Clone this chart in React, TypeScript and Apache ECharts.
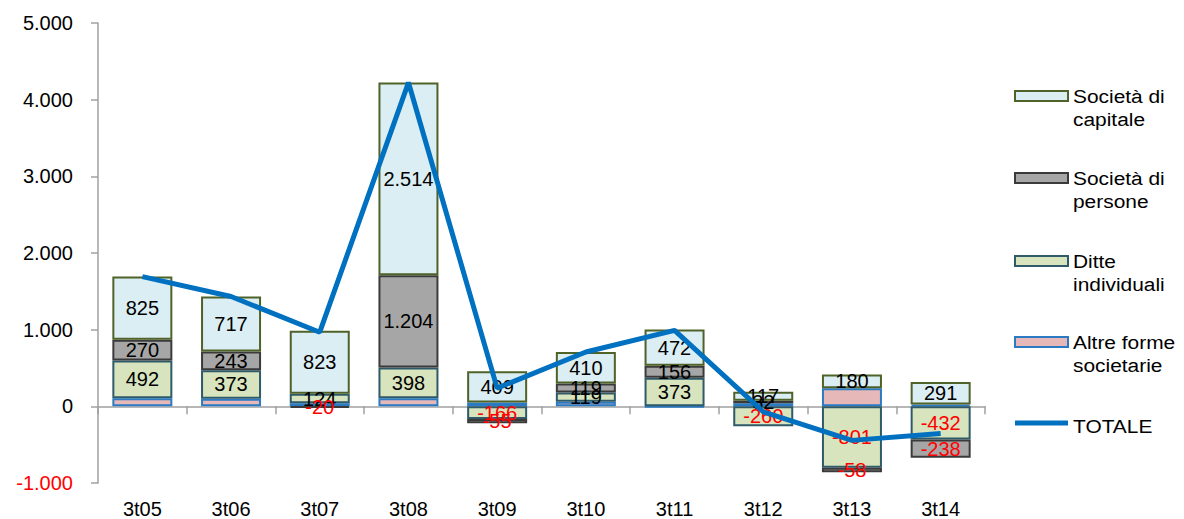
import React, { useEffect, useRef } from 'react';
import * as echarts from 'echarts';

const categories = ['3t05', '3t06', '3t07', '3t08', '3t09', '3t10', '3t11', '3t12', '3t13', '3t14'];
const altreForme = [105, 99, 40, 107, 50, 60, -10, 40, 235, 25];
const ditteIndividuali = [492, 373, 124, 398, -166, 119, 373, -260, -801, -432];
const societaPersone = [270, 243, -20, 1204, -55, 119, 156, 32, -58, -238];
const societaCapitale = [825, 717, 823, 2514, 409, 410, 472, 117, 180, 291];
const totale = [1692, 1432, 967, 4223, 238, 708, 991, -71, -444, -354];

const seriesNames = ['Società di\ncapitale', 'Società di\npersone', 'Ditte\nindividuali', 'Altre forme\nsocietarie', 'TOTALE'];

const FONT = 'Liberation Sans, Arial, sans-serif';
const RED = '#FF0000';

const fmt = (v: number) =>
  (v < 0 ? '-' : '') + Math.abs(v).toString().replace(/\B(?=(\d{3})+(?!\d))/g, '.');

const barData = (vals: number[]) =>
  vals.map((v) => ({ value: v, label: { color: v < 0 ? RED : '#000000' } }));

const labelCfg = {
  show: true,
  position: 'inside',
  fontSize: 20,
  fontFamily: FONT,
  textBorderWidth: 0,
  formatter: (p: any) => fmt(p.value),
};

const legendItems = [
  { text: seriesNames[0], fill: '#DBEEF4', stroke: '#4F6228', cy: 96 },
  { text: seriesNames[1], fill: '#A6A6A6', stroke: '#3A3A3A', cy: 178 },
  { text: seriesNames[2], fill: '#D7E4BD', stroke: '#2F5A6A', cy: 261 },
  { text: seriesNames[3], fill: '#E6B9B8', stroke: '#2A7BC4', cy: 342 },
];

export default function App() {
  const ref = useRef<HTMLDivElement>(null);
  useEffect(() => {
    if (!ref.current) return;
    const chart = echarts.init(ref.current, undefined, { renderer: 'svg' });
    const graphic: any[] = [];
    legendItems.forEach((it) => {
      graphic.push({
        type: 'rect',
        shape: { x: 1015, y: it.cy - 5, width: 53, height: 10 },
        style: { fill: it.fill, stroke: it.stroke, lineWidth: 2 },
      });
      graphic.push({
        type: 'text',
        x: 1073,
        y: it.cy - 11,
        scaleX: 1.1,
        style: {
          text: it.text,
          font: `19px ${FONT}`,
          fill: '#000',
          verticalAlign: 'top',
          lineHeight: 23,
        },
      });
    });
    graphic.push({
      type: 'line',
      shape: { x1: 1015, y1: 423, x2: 1068, y2: 423 },
      style: { stroke: '#0070C0', lineWidth: 5 },
    });
    graphic.push({
      type: 'text',
      x: 1073,
      y: 426,
      scaleX: 1.1,
      style: { text: seriesNames[4], font: `19px ${FONT}`, fill: '#000', verticalAlign: 'middle' },
    });

    chart.setOption({
      animation: false,
      textStyle: { fontFamily: FONT },
      grid: { left: 98, right: 199, top: 23, bottom: 35 },
      graphic,
      xAxis: [
        {
          type: 'category',
          data: categories,
          position: 'bottom',
          axisLine: { show: true, onZero: true, lineStyle: { color: '#A0A0A0', width: 1.5 } },
          axisTick: { show: true, length: 8, lineStyle: { color: '#A0A0A0', width: 1.5 } },
          axisLabel: { show: false },
          splitLine: { show: false },
        },
        {
          type: 'category',
          data: categories,
          position: 'bottom',
          axisLine: { show: false, onZero: false },
          axisTick: { show: false },
          axisLabel: { show: true, fontSize: 20, color: '#000', fontFamily: FONT, margin: 16 },
          splitLine: { show: false },
        },
      ],
      yAxis: {
        type: 'value',
        min: -1000,
        max: 5000,
        interval: 1000,
        axisLine: { show: true, lineStyle: { color: '#A0A0A0', width: 1.5 } },
        axisTick: { show: true, length: 7, lineStyle: { color: '#A0A0A0', width: 1.5 } },
        splitLine: { show: false },
        axisLabel: {
          fontSize: 20,
          fontFamily: FONT,
          margin: 25,
          formatter: (v: number) => fmt(v),
          color: (v: any) => (Number(v) < 0 ? RED : '#000000'),
        },
      },
      series: [
        {
          name: 'Altre forme societarie',
          type: 'bar',
          stack: 'tot',
          barWidth: 60,
          data: altreForme,
          itemStyle: { color: '#E6B9B8', borderColor: '#2A7BC4', borderWidth: 2 },
          label: { show: false },
        },
        {
          name: 'Ditte individuali',
          type: 'bar',
          stack: 'tot',
          barWidth: 60,
          data: barData(ditteIndividuali),
          itemStyle: { color: '#D7E4BD', borderColor: '#2F5A6A', borderWidth: 2 },
          label: labelCfg,
        },
        {
          name: 'Società di persone',
          type: 'bar',
          stack: 'tot',
          barWidth: 60,
          data: barData(societaPersone),
          itemStyle: { color: '#A6A6A6', borderColor: '#3A3A3A', borderWidth: 2 },
          label: labelCfg,
        },
        {
          name: 'Società di capitale',
          type: 'bar',
          stack: 'tot',
          barWidth: 60,
          data: barData(societaCapitale),
          itemStyle: { color: '#DBEEF4', borderColor: '#4F6228', borderWidth: 2 },
          label: labelCfg,
        },
        {
          name: 'TOTALE',
          type: 'line',
          data: totale,
          symbol: 'none',
          z: 5,
          lineStyle: { color: '#0070C0', width: 5 },
          itemStyle: { color: '#0070C0' },
        },
      ],
    });
    return () => chart.dispose();
  }, []);
  return (
    <div
      ref={ref}
      style={{ position: 'absolute', left: 0, top: 0, width: 1184, height: 519 }}
    />
  );
}
